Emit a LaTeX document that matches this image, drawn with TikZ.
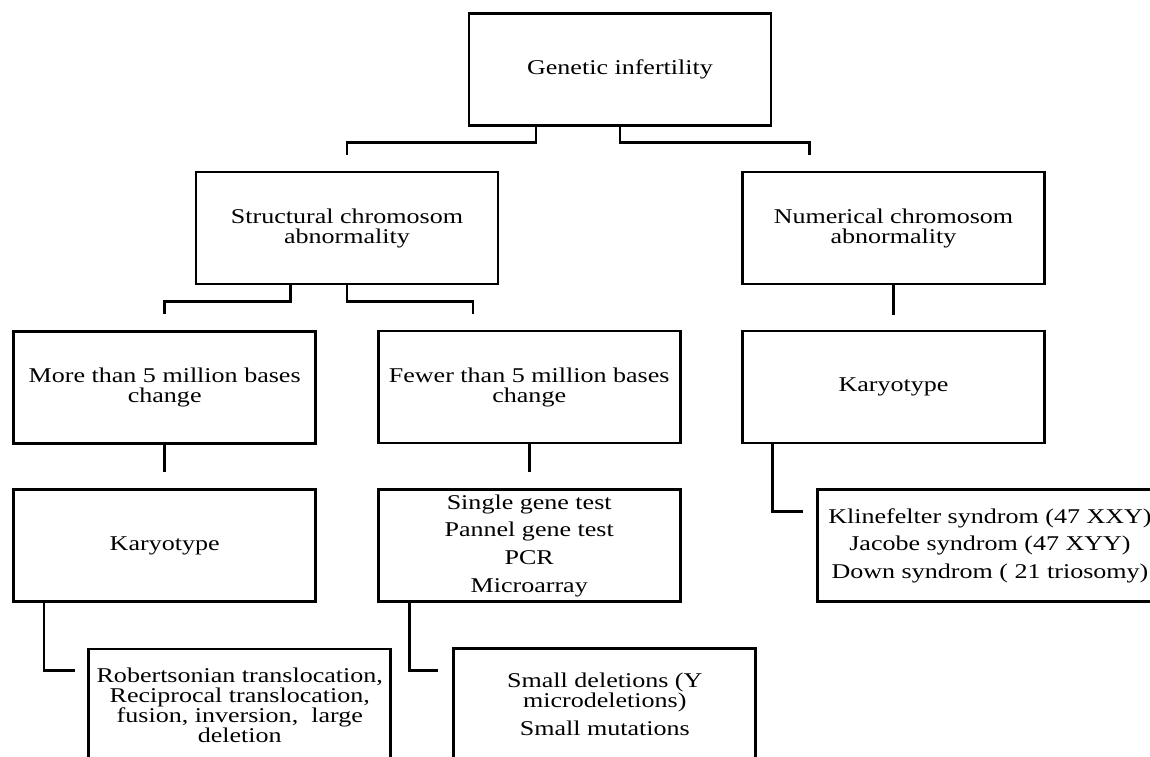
\documentclass[tikz,border=0pt]{standalone}
\usepackage{fontspec}
\setmainfont{Liberation Serif}[FakeStretch=1.24]
\begin{document}
\begin{tikzpicture}[x=1pt,y=1pt,
  box/.style={draw=black, line width=2.8pt, minimum width=302pt, minimum height=112pt,
    inner sep=0pt, align=center, font=\fontsize{21}{20}\selectfont},
  conn/.style={draw=black, line width=2.8pt}]
\useasboundingbox (0,0) rectangle (1150,-756);
\fill[white] (0,0) rectangle (1150,-756);

\node[box] (gi) at (620,-69.5) {Genetic infertility};
\node[box] (sca) at (347,-228) {Structural chromosom\\abnormality};
\node[box] (nca) at (893.5,-228) {Numerical chromosom\\abnormality};
\node[box] (more) at (164.7,-387.2) {More than 5 million bases\\change};
\node[box] (fewer) at (529.2,-387) {Fewer than 5 million bases\\change};
\node[box] (nkar) at (893.5,-387) {Karyotype};
\node[box] (lkar) at (164.7,-545.8) {Karyotype};
\node[box, font=\fontsize{21}{27.7}\selectfont] (tests) at (529.2,-545.8)
  {Single gene test\\Pannel gene test\\PCR\\Microarray};
\node[box, minimum width=345pt, font=\fontsize{21}{27.5}\selectfont] (kline) at (990,-545.8)
  {Klinefelter syndrom (47 XXY)\\Jacobe syndrom (47 XYY)\\Down syndrom ( 21 triosomy)};
\node[box] (rob) at (239.8,-705)
  {Robertsonian translocation,\\Reciprocal translocation,\\fusion, inversion,~ large\\deletion};
\node[box] (small) at (604.8,-704.5)
  {Small deletions (Y\\microdeletions)\\[8.3pt]Small mutations};

\coordinate (e1) at ([xshift=-12.7pt,yshift=-23pt]rob.north west);
\coordinate (e2) at ([xshift=-14pt,yshift=-23.3pt]small.north west);
\coordinate (e3) at ([xshift=-13.4pt,yshift=-23.3pt]kline.north west);

\draw[conn] ([xshift=-84pt]gi.south) -- ++(0,-15.5) -| ([yshift=15.6pt]sca.north);
\draw[conn] (gi.south) -- ++(0,-15.5) -| ([xshift=-84.2pt,yshift=15.6pt]nca.north);
\draw[conn] ([xshift=-56.3pt]sca.south) -- ++(0,-16) -| ([yshift=15.7pt]more.north);
\draw[conn] (sca.south) -- ++(0,-16) -| ([xshift=-56.2pt,yshift=15.7pt]fewer.north);
\draw[conn] (nca.south) -- ([yshift=15pt]nkar.north);
\draw[conn] (more.south) -- ([yshift=16pt]lkar.north);
\draw[conn] (fewer.south) -- ([yshift=16pt]tests.north);
\draw[conn] ([xshift=-120.7pt]lkar.south) |- (e1);
\draw[conn] ([xshift=-119.9pt]tests.south) |- (e2);
\draw[conn] ([xshift=-120.8pt]nkar.south) |- (e3);
\end{tikzpicture}
\end{document}
